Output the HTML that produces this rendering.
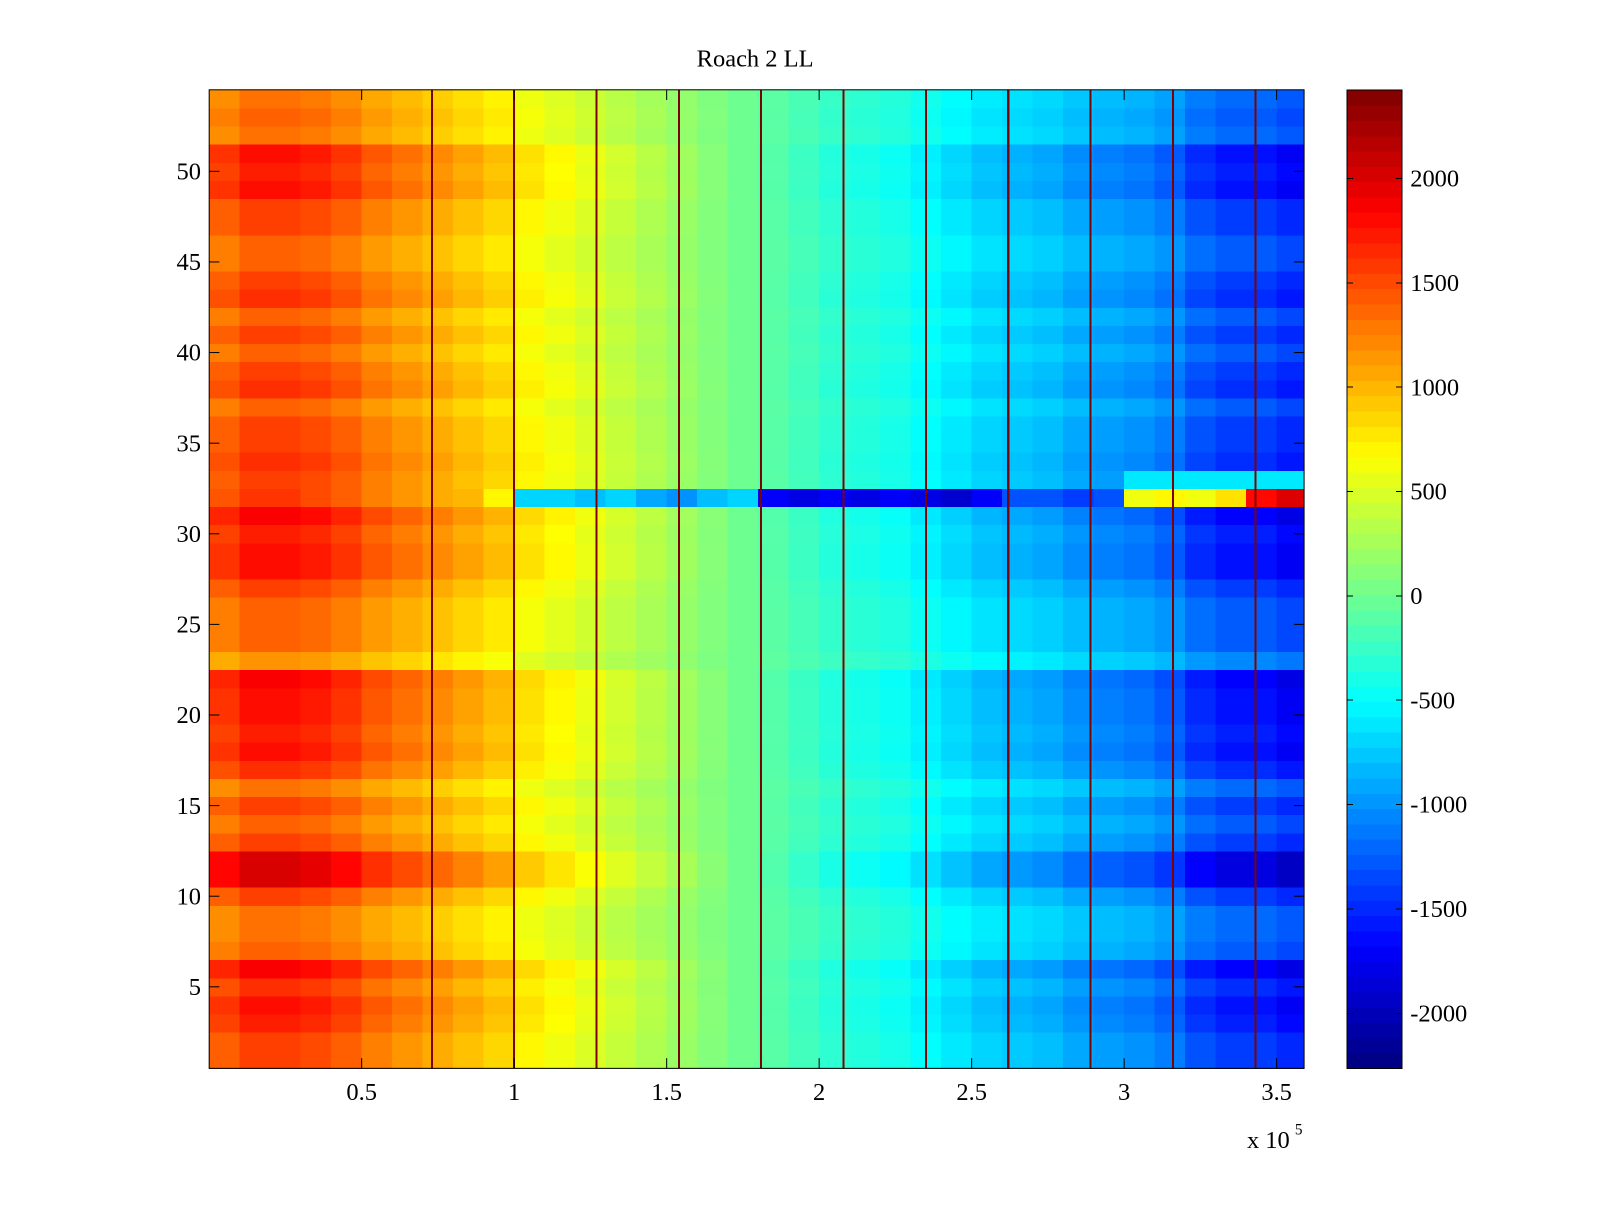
<!DOCTYPE html>
<html><head><meta charset="utf-8"><title>Roach 2 LL</title>
<style>
html,body{margin:0;padding:0;background:#fff;overflow:hidden;}
svg text{font-family:"Liberation Serif",serif;font-size:24px;fill:#000;}
</style></head>
<body>
<svg id="chart" width="1600" height="1200" viewBox="0 0 1568 1176" preserveAspectRatio="none" xmlns="http://www.w3.org/2000/svg">
<rect width="1568" height="1176" fill="#fff"/>
<text x="740" y="65" text-anchor="middle">Roach 2 LL</text>
<g id="cells" shape-rendering="crispEdges"></g>
<g id="events" shape-rendering="crispEdges"></g>
<g id="cbar" shape-rendering="crispEdges"></g>
<g id="axes"></g>
</svg>
<script>
// ---- data ----
const colMeans = [1400,1550,1550,1500,1400,1250,1150,1050,950,850,700,600,500,400,300,200,100,0,-100,-200,-300,-350,-400,-500,-600,-700,-750,-800,-900,-950,-1000,-1100,-1300,-1400,-1400,-1500];
const rowScales = [1.0,1.0,1.1,1.15,1.05,1.2,0.9,0.85,0.85,1.0,1.3,1.3,1.0,0.9,1.0,0.85,1.05,1.15,1.1,1.15,1.15,1.2,0.75,0.9,0.9,0.9,1.0,1.15,1.15,1.1,1.2,1.0,1.0,1.05,1.0,1.0,0.9,1.05,1.0,0.9,1.0,0.9,1.05,1.0,0.9,0.9,1.0,1.0,1.15,1.1,1.15,0.85,0.9,0.85];
const row32Values = [1450,1600,1600,1500,1400,1250,1150,1050,1000,700,-700,-700,-800,-700,-900,-1000,-800,-700,-1700,-1800,-1700,-1800,-1700,-1800,-1900,-1700,-1300,-1300,-1400,-1300,600,700,600,800,1800,2000];
const row33Values = [1400,1550,1550,1500,1400,1250,1150,1050,950,850,700,600,500,400,300,200,100,0,-100,-200,-300,-350,-400,-500,-600,-700,-750,-800,-900,-950,-600,-600,-600,-600,-600,-600];
const eventX = [0.73,1.0,1.27,1.54,1.81,2.08,2.35,2.62,2.89,3.16,3.43];
const xTicks = [0.5,1,1.5,2,2.5,3,3.5];
const yTicks = [5,10,15,20,25,30,35,40,45,50];
const cTicks = [2000,1500,1000,500,0,-500,-1000,-1500,-2000];

// ---- geometry ----
const PL=205, PR=1278, PT=88, PB=1047;
const XMAX=3.59, CMIN=-2264, CMAX=2425;
const NS="http://www.w3.org/2000/svg";
const xs = v => PL + v/XMAX*(PR-PL);
const ys = v => PB - (v-0.5)/54*(PB-PT);
const cy = v => PB - (v-CMIN)/(CMAX-CMIN)*(PB-PT);

function jet(t){
  t=Math.max(0,Math.min(1,t));
  const f=x=>Math.max(0,Math.min(1,x));
  const r=f(1.5-Math.abs(4*t-3)), g=f(1.5-Math.abs(4*t-2)), b=f(1.5-Math.abs(4*t-1));
  return `rgb(${Math.round(r*255)},${Math.round(g*255)},${Math.round(b*255)})`;
}
const colorOf = v => jet((v-CMIN)/(CMAX-CMIN));
function mk(tag,attrs,parent){const e=document.createElementNS(NS,tag);for(const k in attrs)e.setAttribute(k,attrs[k]);parent.appendChild(e);return e;}

// ---- cells ----
const cells=document.getElementById('cells');
const binW = 0.1;
for(let r=0;r<rowScales.length;r++){
  for(let c=0;c<colMeans.length;c++){
    let v;
    if(r===31) v=row32Values[c];
    else if(r===32) v=row33Values[c];
    else v=colMeans[c]*rowScales[r];
    const x0=xs(c*binW), x1=Math.min(PR,xs((c+1)*binW));
    const y0=ys(r+1.5), y1=ys(r+0.5);
    const el=mk('rect',{x:x0,y:y0,width:Math.max(0,x1-x0+0.5),height:y1-y0+0.5,fill:colorOf(v)},cells);
    
    
  }
}
// ---- event lines ----
const ev=document.getElementById('events');
eventX.forEach(e=>{
  const el=mk('rect',{x:xs(e)-1,y:PT,width:2,height:PB-PT,fill:'#7f0000'},ev);
  
  
});

// ---- axes ----
const ax=document.getElementById('axes');
mk('rect',{x:PL,y:PT,width:PR-PL,height:PB-PT,fill:'none',stroke:'#000','stroke-width':1},ax);
xTicks.forEach(t=>{
  const x=xs(t);
  mk('line',{x1:x,y1:PB,x2:x,y2:PB-10,stroke:'#000'},ax);
  mk('line',{x1:x,y1:PT,x2:x,y2:PT+10,stroke:'#000'},ax);
  const tx=mk('text',{x:x,y:1078,'text-anchor':'middle'},ax);tx.textContent=t;
  
  
});
yTicks.forEach(t=>{
  const y=ys(t);
  mk('line',{x1:PL,y1:y,x2:PL+10,y2:y,stroke:'#000'},ax);
  mk('line',{x1:PR,y1:y,x2:PR-10,y2:y,stroke:'#000'},ax);
  const tx=mk('text',{x:197,y:y+8,'text-anchor':'end'},ax);tx.textContent=t;
  
  
});
const ex=mk('text',{x:1222,y:1125},ax);ex.textContent='x 10';


const ex2=mk('text',{x:1269,y:1112,style:'font-size:15px'},ax);ex2.textContent='5';

// ---- colorbar ----
const cb=document.getElementById('cbar');
const CBL=1320, CBR=1374, N=64;
for(let i=0;i<N;i++){
  const h=(PB-PT)/N;
  mk('rect',{x:CBL,y:PB-(i+1)*h,width:CBR-CBL,height:h+0.6,fill:jet((i+0.5)/N)},cb);
}
mk('rect',{x:CBL,y:PT,width:CBR-CBL,height:PB-PT,fill:'none',stroke:'#000'},cb);
cTicks.forEach(t=>{
  const y=cy(t);
  mk('line',{x1:CBL,y1:y,x2:CBL+6,y2:y,stroke:'#000'},cb);
  mk('line',{x1:CBR,y1:y,x2:CBR-6,y2:y,stroke:'#000'},cb);
  const tx=mk('text',{x:1382,y:y+8},cb);tx.textContent=t;
  
  
});
</script>
</body></html>
